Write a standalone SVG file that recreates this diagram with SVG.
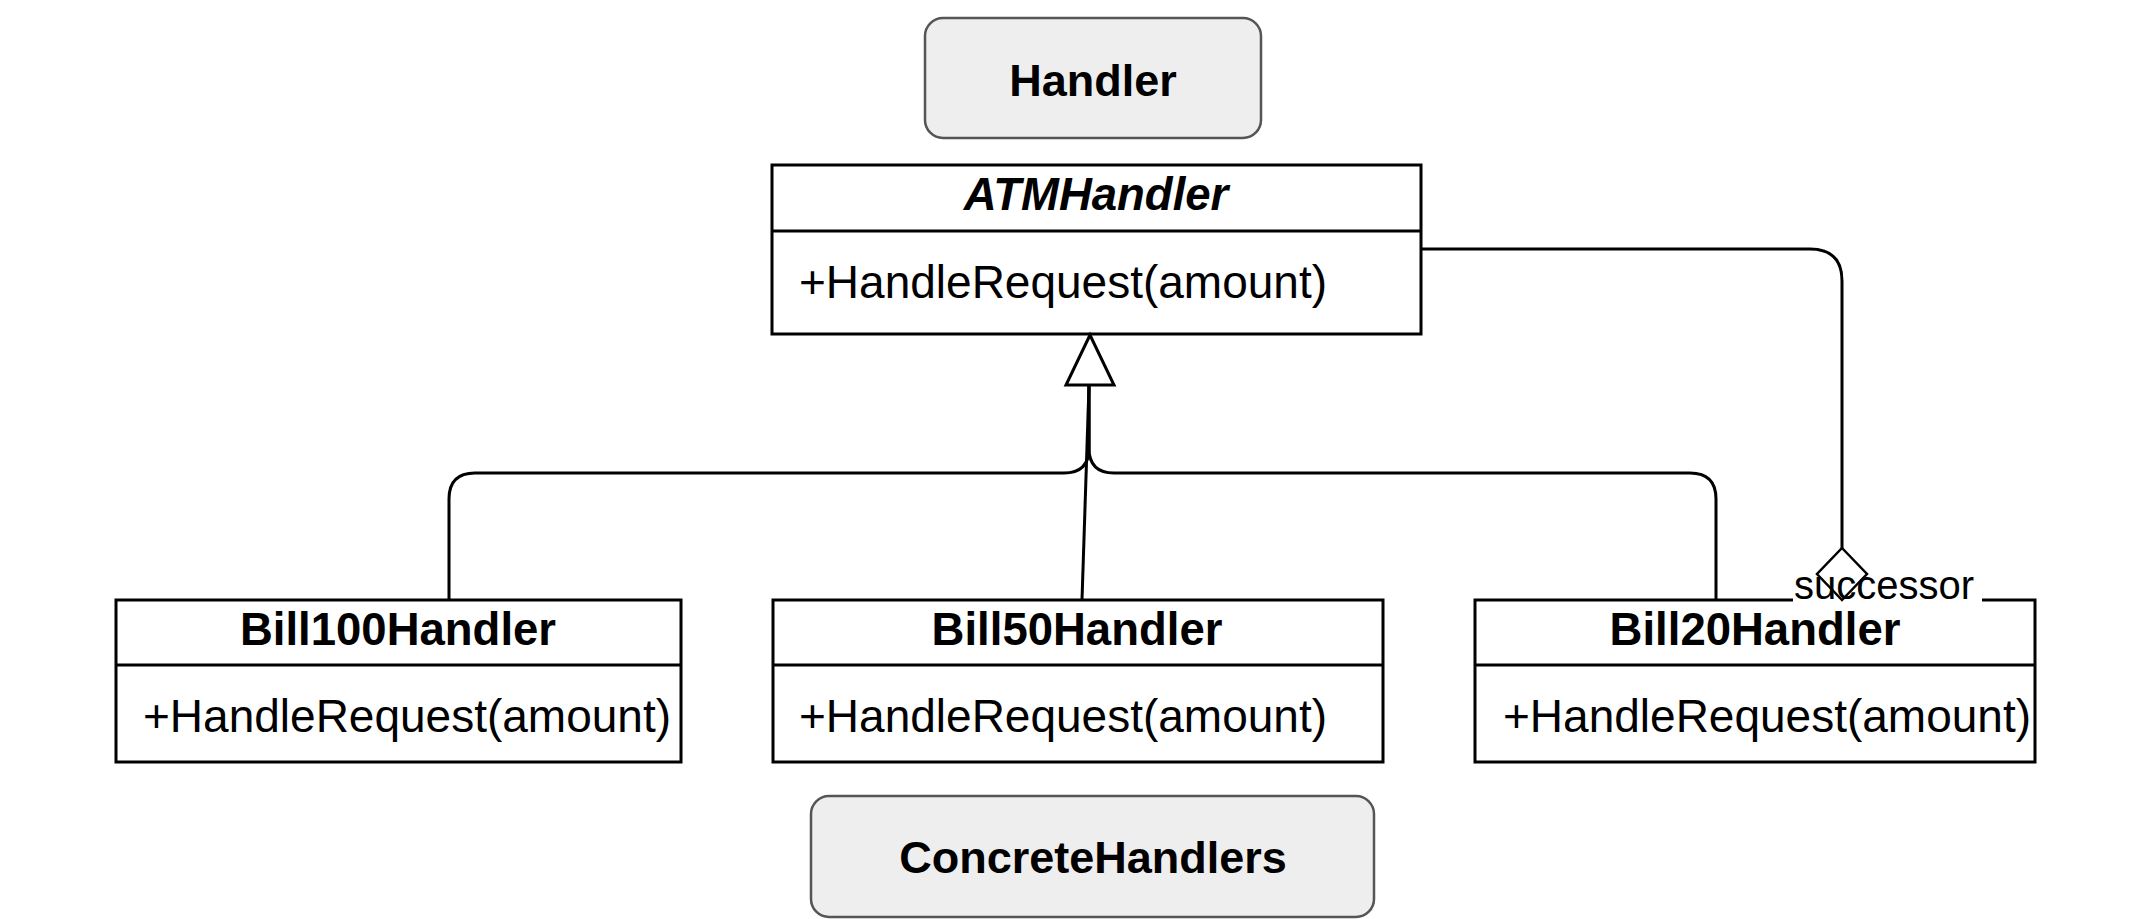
<svg xmlns="http://www.w3.org/2000/svg" width="2142" height="919" viewBox="0 0 2142 919">
<style>
.cls{fill:#fff;stroke:#000;stroke-width:3}
.lbl{fill:#eeeeee;stroke:#555;stroke-width:2.5}
.edge{fill:none;stroke:#000;stroke-width:3}
text{font-family:"Liberation Sans",Arial,sans-serif;fill:#000}
.name{font-size:45.5px;font-weight:bold;text-anchor:middle}
.meth{font-size:46px}
.big{font-size:45px;font-weight:bold;text-anchor:middle}
</style>
<rect width="2142" height="919" fill="#fff"/>
<g id="handler-label">
<rect class="lbl" x="925" y="18" width="336" height="120" rx="18"/>
<text class="big" x="1093" y="96">Handler</text>
</g>
<g id="atmhandler">
<rect class="cls" x="772" y="165" width="649" height="169"/>
<line class="cls" x1="772" y1="231" x2="1421" y2="231"/>
<text class="name" x="1096" y="210" font-style="italic">ATMHandler</text>
<text class="meth" x="799" y="298">+HandleRequest(amount)</text>
</g>
<g id="bill100handler">
<rect class="cls" x="116" y="600" width="565" height="162"/>
<line class="cls" x1="116" y1="665" x2="681" y2="665"/>
<text class="name" x="398" y="645">Bill100Handler</text>
<text class="meth" x="143" y="732">+HandleRequest(amount)</text>
</g>
<g id="bill50handler">
<rect class="cls" x="773" y="600" width="610" height="162"/>
<line class="cls" x1="773" y1="665" x2="1383" y2="665"/>
<text class="name" x="1077" y="645">Bill50Handler</text>
<text class="meth" x="799" y="732">+HandleRequest(amount)</text>
</g>
<g id="bill20handler">
<rect class="cls" x="1475" y="600" width="560" height="162"/>
<line class="cls" x1="1475" y1="665" x2="2035" y2="665"/>
<text class="name" x="1755" y="645">Bill20Handler</text>
<text class="meth" x="1503" y="732">+HandleRequest(amount)</text>
</g>
<g id="concretehandlers-label">
<rect class="lbl" x="811" y="796" width="563" height="121" rx="18"/>
<text class="big" x="1093" y="873">ConcreteHandlers</text>
</g>
<g id="connectors">
<path class="edge" d="M1089,385 L1089,448 Q1089,473 1064,473 L475,473 Q449,473 449,499 L449,600"/>
<path class="edge" d="M1089,385 L1089,448 Q1089,473 1114,473 L1690,473 Q1716,473 1716,499 L1716,600"/>
<path class="edge" d="M1089,385 L1082,600"/>
<polygon points="1090,335 1066,385 1114,385" fill="#fff" stroke="#000" stroke-width="3"/>
<path class="edge" d="M1421,249 L1810,249 Q1842,249 1842,281 L1842,548"/>
<rect x="1793" y="578" width="189" height="26" fill="#fff"/>
<text x="1794" y="599" font-size="40">successor</text>
<polygon points="1842,548 1867,574 1842,600 1817,574" fill="none" stroke="#000" stroke-width="2.5"/>
</g>
</svg>
